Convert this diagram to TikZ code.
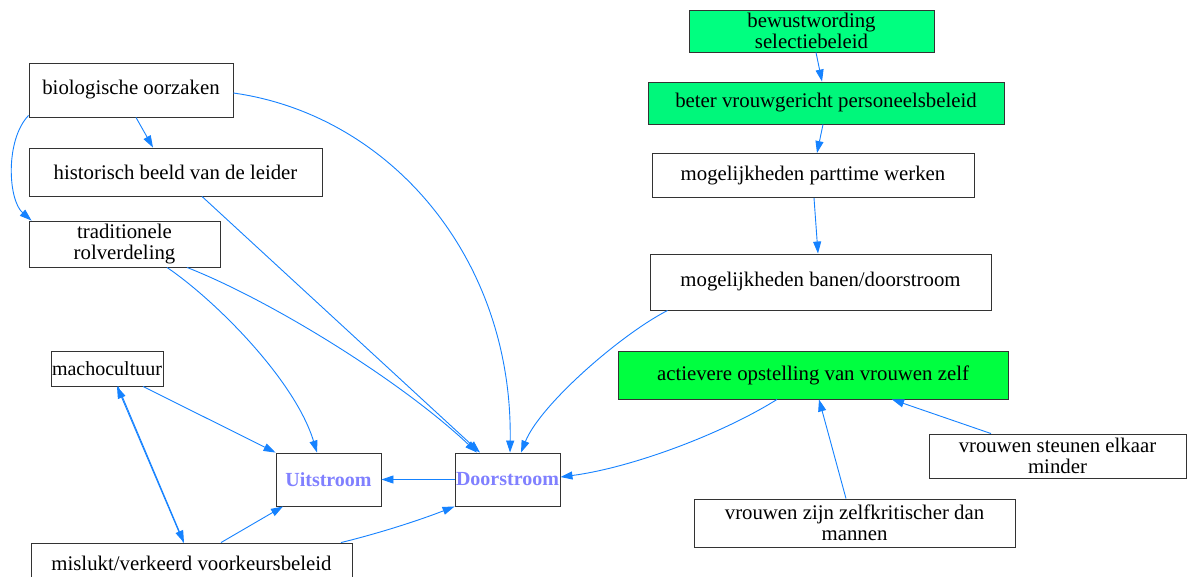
\documentclass[tikz,border=0pt]{standalone}
\usepackage{fontspec}
\setmainfont{Liberation Serif}
\usetikzlibrary{arrows.meta}
\definecolor{edgeblue}{HTML}{1582FF}
\definecolor{gA}{HTML}{00FF80}
\definecolor{gB}{HTML}{00F77B}
\definecolor{gC}{HTML}{00FF40}
\definecolor{flowtxt}{HTML}{8080FF}
\begin{document}
\begin{tikzpicture}[x=1pt,y=-1pt,
  box/.style={draw=black!80, line width=0.9pt, rectangle, inner sep=0pt, align=center,
    font=\fontsize{20.8}{20.5}\selectfont},
  flowbox/.style={box, font=\fontsize{20}{20.5}\selectfont\bfseries, text=flowtxt},
  edge/.style={draw=edgeblue, line width=0.9pt, -{Triangle[length=12pt,width=8pt]}},
]
\useasboundingbox (0,0) rectangle (1190,576);
\fill[white] (0,0) rectangle (1190,576);

% right column
\node[box, minimum width=245pt, minimum height=42pt, fill=gA] (bew) at (811.5,31) {bewustwording\\selectiebeleid};
\node[box, minimum width=356pt, minimum height=42pt, fill=gB] (beter) at (826,103) {beter vrouwgericht personeelsbeleid};
\node[box, minimum width=322pt, minimum height=44pt] (part) at (813,175.5) {mogelijkheden parttime werken};
\node[box, minimum width=341pt, minimum height=56pt] (banen) at (820.5,282) {mogelijkheden banen/doorstroom};
\node[box, minimum width=390pt, minimum height=48pt, fill=gC] (act) at (813,375) {actievere opstelling van vrouwen zelf};
\node[box, minimum width=257pt, minimum height=44pt] (steunen) at (1057.5,456) {vrouwen steunen elkaar\\minder};
\node[box, minimum width=321pt, minimum height=48pt] (zijn) at (854.5,523) {vrouwen zijn zelfkritischer dan\\mannen};

% left column
\node[box, minimum width=204pt, minimum height=54pt] (bio) at (131,90) {biologische oorzaken};
\node[box, minimum width=293pt, minimum height=48pt] (hist) at (175.5,172) {historisch beeld van de leider};
\node[box, minimum width=191pt, minimum height=46pt] (trad) at (124.5,244) {traditionele\\rolverdeling};
\node[box, minimum width=112pt, minimum height=35pt, font=\fontsize{20}{20.5}\selectfont] (macho) at (107,368.5) {machocultuur};
\node[flowbox, minimum width=105pt, minimum height=53pt] (uit) at (328.5,479.5) {Uitstroom};
\node[flowbox, minimum width=105pt, minimum height=53pt] (door) at (507.5,479.5) {Doorstroom};
\node[box, minimum width=321pt, minimum height=40pt] (mis) at (191.5,563) {mislukt/verkeerd voorkeursbeleid};

% right column edges
\draw[edge] ([xshift=4.5pt]bew.south) -- ([xshift=-4pt]beter.north);
\draw[edge] ([xshift=-3pt]beter.south) -- ([xshift=4pt]part.north);
\draw[edge] ([xshift=1pt]part.south) -- ([xshift=-2.5pt]banen.north);
\draw[edge] ([xshift=18pt]banen.south west) .. controls (620,335) and (540,405) .. ([xshift=13.5pt]door.north);
\draw[edge] ([xshift=-36pt]act.south) .. controls (720,435) and (630,468) .. ([yshift=2.5pt]door.east);
\draw[edge] ([xshift=-8.5pt]zijn.north) -- ([xshift=6pt]act.south);
\draw[edge] ([xshift=-66.5pt]steunen.north) -- ([xshift=79pt]act.south);

% left column edges
\draw[edge] ([xshift=5pt]bio.south) -- ([xshift=-22.5pt]hist.north);
\draw[edge] ([yshift=2pt]bio.south west) .. controls (5,140) and (8,200) .. ([xshift=3pt]trad.north west);
\draw[edge] ([yshift=-3pt]bio.east) .. controls (390,115) and (513,258) .. ([xshift=2.5pt]door.north);
\draw[edge] ([xshift=26.5pt]hist.south) -- ([xshift=-27.5pt]door.north);
\draw[edge] ([xshift=62.5pt]trad.south) .. controls (270,300) and (400,380) .. ([xshift=-30.5pt]door.north);
\draw[edge] ([xshift=42.5pt]trad.south) .. controls (215,300) and (295,380) .. ([xshift=-11.5pt]uit.north);
\draw[edge] ([xshift=36pt]macho.south) -- (uit.north west);
\draw[edge] ([xshift=-8pt]mis.north) -- ([xshift=10pt]macho.south);
\draw[edge] ([xshift=11pt]macho.south) -- ([xshift=-7.5pt]mis.north);
\draw[edge] ([xshift=29.5pt]mis.north) -- ([xshift=-45.5pt]uit.south);
\draw[edge] ([xshift=149.5pt]mis.north) .. controls (380,533) and (420,520) .. (door.south west);
\draw[edge] (door.west) -- (uit.east);
\end{tikzpicture}
\end{document}
